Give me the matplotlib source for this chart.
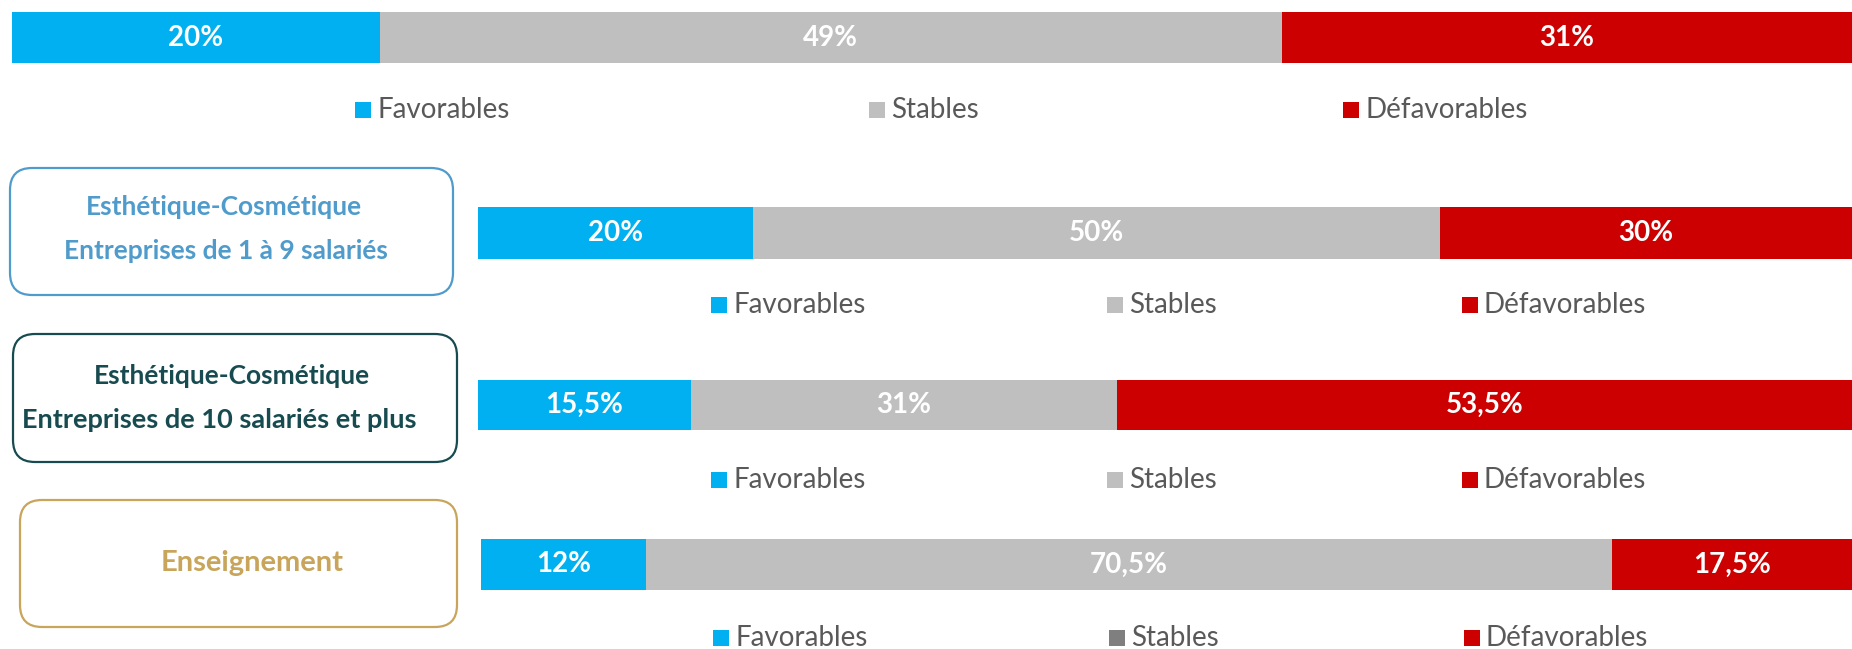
import matplotlib
matplotlib.use("Agg")
import matplotlib.pyplot as plt
from matplotlib.patches import FancyBboxPatch, Rectangle

plt.rcParams['font.family'] = ['Lato', 'DejaVu Sans']

# Data
categories = ["Favorables", "Stables", "Défavorables"]
values_ensemble = [20, 49, 31]
values_1_9 = [20, 50, 30]
values_10_plus = [15.5, 31, 53.5]
values_enseignement = [12, 70.5, 17.5]
labels_ensemble = ["20%", "49%", "31%"]
labels_1_9 = ["20%", "50%", "30%"]
labels_10_plus = ["15,5%", "31%", "53,5%"]
labels_enseignement = ["12%", "70,5%", "17,5%"]

BLUE = "#00B0F0"
GREY = "#BFBFBF"
DARK_GREY = "#7F7F7F"
RED = "#CC0000"
LEGEND_TXT = "#595959"

W, H = 1852, 649
fig = plt.figure(figsize=(W / 100, H / 100), dpi=100)

# Background axes in pixel units for boxes and legends
bg = fig.add_axes([0, 0, 1, 1])
bg.set_xlim(0, W)
bg.set_ylim(H, 0)
bg.axis("off")


def bar_axes(x0, y0, x1, y1):
    ax = fig.add_axes([x0 / W, 1 - y1 / H, (x1 - x0) / W, (y1 - y0) / H])
    ax.set_xlim(0, 100)
    ax.set_ylim(-0.5, 0.5)
    ax.axis("off")
    return ax


def stacked_bar(ax, values, labels, colors):
    left = 0
    for v, lab, c in zip(values, labels, colors):
        ax.barh(0, v, left=left, height=1.0, color=c, edgecolor="none")
        ax.text(left + v / 2, 0, lab, ha="center", va="center",
                color="white", fontsize=20, fontweight="bold")
        left += v


def legend_row(y, xs, colors):
    s = 16
    for x, c, name in zip(xs, colors, categories):
        bg.add_patch(Rectangle((x, y - s / 2), s, s, facecolor=c, edgecolor="none"))
        bg.text(x + s + 6, y, name, ha="left", va="center",
                color=LEGEND_TXT, fontsize=20)


def label_box(x0, y0, x1, y1, color):
    bg.add_patch(FancyBboxPatch((x0, y0), x1 - x0, y1 - y0,
                                boxstyle="round,pad=0,rounding_size=22",
                                facecolor="white", edgecolor=color, linewidth=1.6))


colors_std = [BLUE, GREY, RED]

# Overall bar
ax0 = bar_axes(12, 12, W, 63)
stacked_bar(ax0, values_ensemble, labels_ensemble, colors_std)
legend_row(110, [355, 869, 1343], colors_std)

# Esthétique-Cosmétique 1 à 9 salariés
C1 = "#4F9BCB"
label_box(10, 168, 453, 295, C1)
bg.text(224, 207, "Esthétique-Cosmétique", ha="center", va="center",
        color=C1, fontsize=19, fontweight="bold")
bg.text(226, 251, "Entreprises de 1 à 9 salariés", ha="center", va="center",
        color=C1, fontsize=19, fontweight="bold")
ax1 = bar_axes(478, 207, W, 259)
stacked_bar(ax1, values_1_9, labels_1_9, colors_std)
legend_row(305, [711, 1107, 1462], colors_std)

# Esthétique-Cosmétique 10 salariés et plus
C2 = "#174B50"
label_box(13, 334, 457, 462, C2)
bg.text(232, 376, "Esthétique-Cosmétique", ha="center", va="center",
        color=C2, fontsize=19, fontweight="bold")
bg.text(219, 420, "Entreprises de 10 salariés et plus", ha="center", va="center",
        color=C2, fontsize=19.5, fontweight="bold")
ax2 = bar_axes(478, 380, W, 430)
stacked_bar(ax2, values_10_plus, labels_10_plus, colors_std)
legend_row(480, [711, 1107, 1462], colors_std)

# Enseignement
C3 = "#C8A55A"
label_box(20, 500, 457, 627, C3)
bg.text(252, 563, "Enseignement", ha="center", va="center",
        color=C3, fontsize=21, fontweight="bold")
ax3 = bar_axes(481, 539, W, 590)
stacked_bar(ax3, values_enseignement, labels_enseignement, colors_std)
legend_row(638, [713, 1109, 1464], [BLUE, DARK_GREY, RED])

fig.savefig("out.png", dpi=100)
